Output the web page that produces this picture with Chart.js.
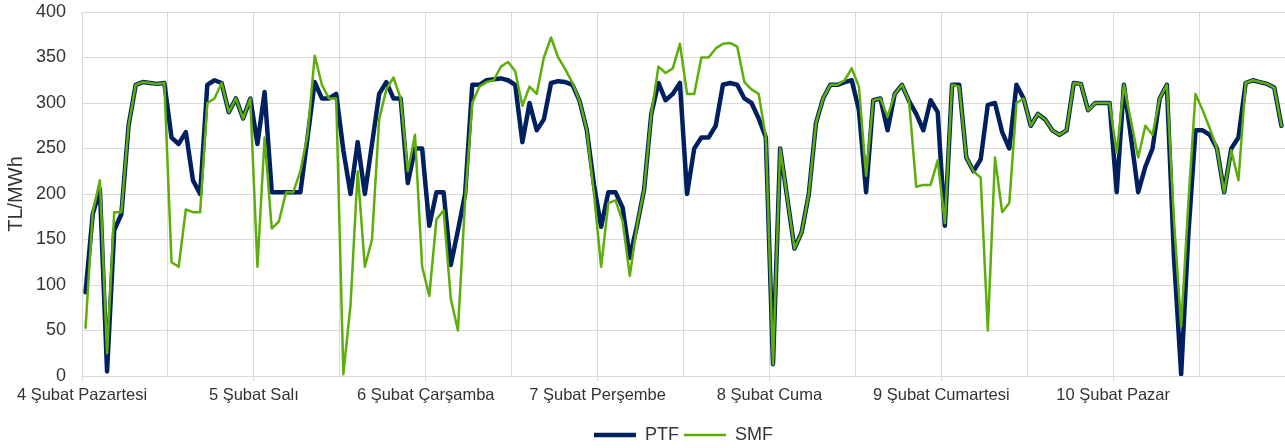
<!DOCTYPE html>
<html>
<head>
<meta charset="utf-8">
<script src="https://cdn.jsdelivr.net/npm/chart.js@4/dist/chart.umd.min.js"></script>
<style>
  html,body{margin:0;padding:0;background:#fff;}
  #wrap{width:1285px;height:448px;position:relative;}
</style>
</head>
<body>
<div id="wrap"><canvas id="ch"></canvas></div>
<script>
// gün etiketleri (her 24 saatte bir)
const days=['4 Şubat Pazartesi','5 Şubat Salı','6 Şubat Çarşamba','7 Şubat Perşembe','8 Şubat Cuma','9 Şubat Cumartesi','10 Şubat Pazar'];
const yTicks=[0,50,100,150,200,250,300,350,400];

// saatlik PTF (TL/MWh)
const ptf=[
  92,178,205,5,160,178,275,320,323,322,321,322,262,255,268,215,200,320,325,322,290,305,283,305,
  255,312,202,202,202,202,202,262,323,305,305,310,248,200,257,200,255,310,323,305,305,212,250,250,
  165,202,202,122,160,200,320,320,325,326,327,325,320,257,300,270,282,322,324,323,320,302,270,210,
  164,202,202,185,130,165,205,288,322,303,310,322,200,250,262,262,275,320,322,320,305,300,283,262,
  13,250,195,140,158,200,278,305,320,320,323,325,292,202,303,305,270,310,320,302,288,270,303,290,
  165,320,320,240,225,238,298,300,268,250,320,305,275,288,282,270,265,270,322,321,292,300,300,300,
  202,320,262,202,230,250,305,320,130,2,155,270,270,265,250,202,250,262,322,325,323,321,317,275
];
// saatlik SMF (TL/MWh)
const smf=[
  53,180,215,25,180,180,275,320,323,322,321,322,125,120,183,180,180,300,305,322,290,305,283,305,
  120,262,162,170,202,202,225,265,352,320,305,305,2,78,225,120,150,282,315,328,305,225,265,120,
  88,172,182,85,50,193,300,318,323,325,340,345,335,297,318,310,350,372,350,337,322,302,270,200,
  120,190,193,170,110,165,205,288,340,333,338,365,310,310,350,350,360,365,366,362,323,315,310,262,
  13,250,195,140,158,200,278,305,320,320,325,338,318,220,303,305,285,310,320,302,208,210,210,237,
  168,320,318,240,225,218,50,240,180,190,300,305,275,288,282,270,265,270,322,321,292,300,300,300,
  245,320,280,240,275,265,305,320,170,55,190,310,292,272,250,202,248,215,322,325,323,321,317,275
];

const NAVY='#002060', GREEN='#5DAE0B', GRID='#d9d9d9', TXT='#333';
const FAM="'Liberation Sans', Arial, sans-serif";
const pts=arr=>arr.map((v,i)=>({x:i+0.5,y:v}));

new Chart(document.getElementById('ch'),{
  type:'line',
  data:{
    datasets:[
      {label:'PTF',data:pts(ptf),borderColor:NAVY,backgroundColor:NAVY,borderWidth:4.5,order:1},
      {label:'SMF',data:pts(smf),borderColor:GREEN,backgroundColor:GREEN,borderWidth:2.5,order:0}
    ]
  },
  options:{
    responsive:true,maintainAspectRatio:false,animation:false,
    layout:{padding:{top:12,right:0,left:0,bottom:-6}},
    elements:{
      point:{radius:0,hoverRadius:0},
      line:{tension:0,borderJoinStyle:'round',borderCapStyle:'round'}
    },
    plugins:{
      tooltip:{enabled:false},
      legend:{
        position:'bottom',fullSize:false,
        labels:{
          usePointStyle:true,pointStyle:'line',pointStyleWidth:42,
          padding:5,color:TXT,font:{family:FAM,size:18},
          sort:(a,b)=>a.datasetIndex-b.datasetIndex
        }
      }
    },
    scales:{
      x:{
        type:'linear',min:0,max:168,
        afterBuildTicks:s=>{ s.ticks=[]; for(let v=0;v<=168;v+=12) s.ticks.push({value:v}); },
        afterFit:s=>{ s.height=45; s.paddingLeft=0; s.paddingRight=0; },
        grid:{color:GRID,lineWidth:1,tickLength:5,
          tickColor:c=>(c.tick&&c.tick.value%24===0&&c.tick.value<168)?GRID:'rgba(0,0,0,0)'},
        border:{color:GRID},
        ticks:{autoSkip:false,maxRotation:0,padding:5,color:TXT,font:{family:FAM,size:16.5},
          callback:v=>(v%24===0&&v<168)?days[v/24]:''}
      },
      y:{
        min:0,max:400,
        afterBuildTicks:s=>{ s.ticks=yTicks.map(v=>({value:v})); },
        afterFit:s=>{ s.width=82; s.paddingTop=0; s.paddingBottom=0; },
        grid:{color:GRID,lineWidth:1,drawTicks:false},
        border:{color:GRID},
        ticks:{padding:16,color:TXT,font:{family:FAM,size:18}},
        title:{display:true,text:'TL/MWh',color:TXT,font:{family:FAM,size:20},padding:{top:4,bottom:0}}
      }
    }
  }
});
</script>
</body>
</html>
